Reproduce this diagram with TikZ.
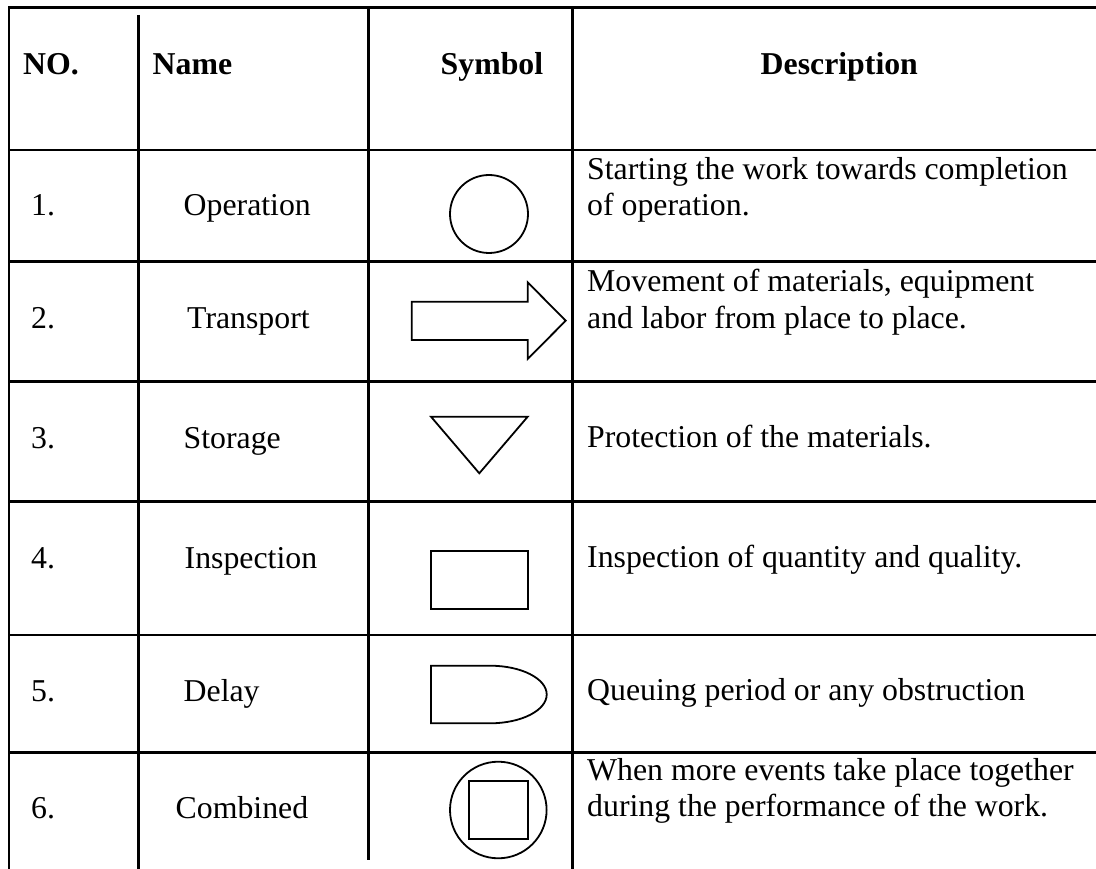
\documentclass[tikz,border=0pt]{standalone}
\usepackage{fontspec}
\setmainfont{Liberation Serif}
\begin{document}
\begin{tikzpicture}[x=1pt,y=-1pt,
  rule/.style={line width=2.6pt,black},
  sym/.style={line width=1.8pt,black,line join=miter},
  cell/.style={inner sep=0pt,anchor=base west,font=\fontsize{31.8pt}{36.7pt}\selectfont},
  head/.style={cell,font=\fontsize{31.8pt}{36.7pt}\selectfont\bfseries}]
\useasboundingbox (0,0) rectangle (1096,869);
\clip (0,0) rectangle (1096,869);

% table rules
\draw[rule] (9,869) -- (9,7.3) -- (1096,7.3);
\draw[rule] (138.7,15) -- (138.7,869);
\draw[rule] (368.7,7.3) -- (368.7,860);
\draw[rule] (572.7,7.3) -- (572.7,869);
\foreach \yy in {150,261.7,381.7,501.7,635,752.7}
  \draw[rule] (9,\yy) -- (1096,\yy);

% header
\node[head] (hno)   at (23,75)  {NO.};
\node[head] (hname) at (152.5,75) {Name};
\node[head] (hsym)  at (440.5,75) {Symbol};
\node[head] (hdesc) at (760.5,75) {Description};

% numbers
\node[cell] (n1) at (31,215.7) {1.};
\node[cell] (n2) at (31,328.3) {2.};
\node[cell] (n3) at (31,448.3) {3.};
\node[cell] (n4) at (31,568.3) {4.};
\node[cell] (n5) at (31,701.7) {5.};
\node[cell] (n6) at (31,818.3) {6.};

% names
\node[cell] (m1) at (183.5,215.7) {Operation};
\node[cell] (m2) at (187,328.3) {Transport};
\node[cell] (m3) at (183.5,448.3) {Storage};
\node[cell] (m4) at (184.5,568.3) {Inspection};
\node[cell] (m5) at (183.5,701.7) {Delay};
\node[cell] (m6) at (175.5,818.3) {Combined};

% descriptions
\node[cell] (d1a) at (587,179.3) {Starting the work towards completion};
\node[cell] (d1b) at (587,216) {of operation.};
\node[cell] (d2a) at (587,292) {Movement of materials, equipment};
\node[cell] (d2b) at (587,328.7) {and labor from place to place.};
\node[cell] (d3)  at (587,447.7) {Protection of the materials.};
\node[cell] (d4)  at (587,567.3) {Inspection of quantity and quality.};
\node[cell] (d5)  at (587,700) {Queuing period or any obstruction};
\node[cell] (d6a) at (587,780) {When more events take place together};
\node[cell] (d6b) at (587,816.7) {during the performance of the work.};

% symbols
% operation
\draw[sym] (489,214) circle[radius=39];
% transport
\draw[sym] (411.7,301.7) -- (527.7,301.7) -- (527.7,282.3) -- (565.7,320.7)
  -- (527.7,359) -- (527.7,340) -- (411.7,340) -- cycle;
% storage
\draw[sym] (431,416.7) -- (527.7,416.7) -- (479.3,473.3) -- cycle;
% inspection
\draw[sym] (431,550.7) rectangle (527.7,609);
% delay
\draw[sym] (431,723.3) -- (431,665.7) -- (490,665.7)
  arc[start angle=-90,end angle=90,x radius=56.7,y radius=28.8]
  -- cycle;
% combined
\draw[sym] (498.3,810) circle[radius=48.3];
\draw[sym] (469.3,781) rectangle (527.7,839);
\end{tikzpicture}
\end{document}
